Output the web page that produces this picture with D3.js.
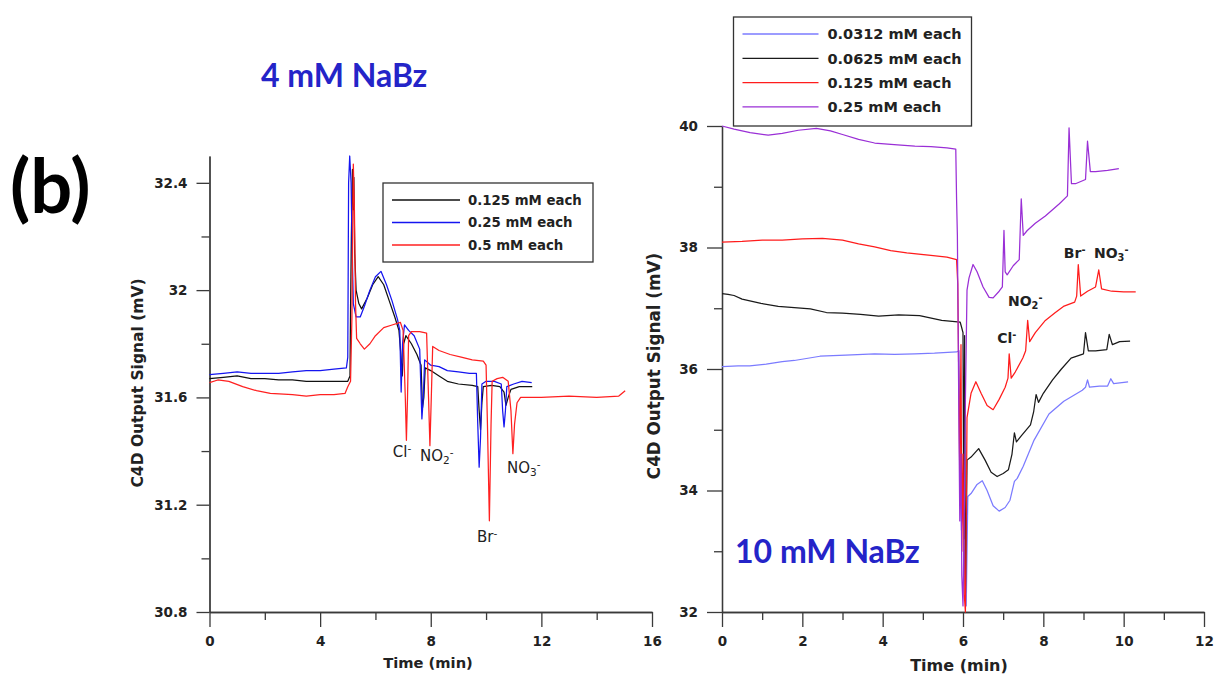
<!DOCTYPE html>
<html>
<head>
<meta charset="utf-8">
<script src="https://cdn.jsdelivr.net/npm/d3@7"></script>
<style>
  html, body { margin: 0; padding: 0; background: #fff; }
  svg { display: block; }
  .tick text { font-family: "DejaVu Sans", sans-serif; font-weight: bold; font-size: 13.5px; fill: #222; }
  .axis path, .axis line { stroke: #3a3a3a; stroke-width: 1.3; }
  .axis-title { font-family: "DejaVu Sans", sans-serif; font-weight: bold; fill: #222; }
  .legend text { font-family: "DejaVu Sans", sans-serif; font-weight: bold; fill: #222; }
  .ion { font-family: "DejaVu Sans", sans-serif; fill: #222; }
  .trace { fill: none; stroke-width: 1.25; stroke-linejoin: round; }
</style>
</head>
<body>
<svg id="chart" width="1215" height="675"></svg>
<script>
// ---------- Left panel: 4 mM NaBz electrolyte, [time (min), signal (mV)] ----------
const left_0125 = [[0,31.67],[0.5,31.675],[1,31.68],[1.5,31.67],[2,31.67],[2.5,31.665],[3,31.665],[3.5,31.66],[4,31.66],[4.5,31.66],[5.0,31.66],[5.08,31.68],[5.1,31.93],[5.13,32.2],[5.17,32.45],[5.2,32.3],[5.22,32.42],[5.25,32.14],[5.3,32.0],[5.4,31.95],[5.5,31.93],[5.7,31.97],[5.9,32.02],[6.1,32.05],[6.3,32.02],[6.5,31.96],[6.7,31.9],[6.85,31.85],[6.92,31.76],[6.97,31.68],[7.02,31.8],[7.1,31.83],[7.3,31.8],[7.5,31.76],[7.65,31.72],[7.7,31.56],[7.75,31.6],[7.8,31.71],[8.0,31.7],[8.3,31.68],[8.6,31.66],[9.0,31.65],[9.5,31.645],[9.7,31.64],[9.75,31.55],[9.8,31.48],[9.85,31.58],[9.9,31.64],[10.2,31.645],[10.5,31.64],[10.65,31.62],[10.72,31.57],[10.8,31.6],[10.9,31.63],[11.2,31.64],[11.67,31.64]];
const left_025 = [[0,31.685],[0.5,31.69],[1,31.695],[1.5,31.69],[2,31.69],[2.5,31.69],[3,31.695],[3.5,31.7],[4,31.7],[4.5,31.705],[4.95,31.71],[5.0,31.75],[5.03,32.4],[5.07,32.5],[5.12,32.4],[5.15,32.2],[5.2,31.95],[5.3,31.9],[5.45,31.9],[5.6,31.94],[5.8,32.0],[6.0,32.05],[6.2,32.07],[6.4,32.02],[6.6,31.96],[6.8,31.89],[6.88,31.85],[6.93,31.62],[6.98,31.8],[7.05,31.87],[7.2,31.85],[7.4,31.83],[7.6,31.78],[7.68,31.52],[7.73,31.6],[7.78,31.74],[8.0,31.72],[8.3,31.715],[8.6,31.7],[9.0,31.695],[9.4,31.69],[9.65,31.69],[9.7,31.5],[9.75,31.34],[9.8,31.45],[9.85,31.65],[10.0,31.66],[10.3,31.66],[10.55,31.65],[10.6,31.55],[10.65,31.49],[10.7,31.55],[10.75,31.64],[11.0,31.65],[11.3,31.66],[11.65,31.655]];
const left_05 = [[0,31.655],[0.3,31.665],[0.7,31.66],[1.2,31.64],[1.7,31.625],[2.2,31.615],[3,31.61],[3.5,31.605],[4,31.61],[4.5,31.61],[4.9,31.615],[5.0,31.64],[5.1,31.66],[5.15,31.9],[5.2,32.47],[5.24,32.3],[5.28,31.95],[5.32,31.82],[5.45,31.8],[5.6,31.78],[5.8,31.8],[6.0,31.83],[6.3,31.86],[6.6,31.87],[6.9,31.88],[7.0,31.85],[7.08,31.6],[7.12,31.44],[7.16,31.6],[7.2,31.83],[7.3,31.845],[7.6,31.845],[7.85,31.84],[7.92,31.6],[7.97,31.42],[8.02,31.6],[8.07,31.79],[8.3,31.775],[8.7,31.76],[9.1,31.75],[9.5,31.74],[9.9,31.735],[10.0,31.72],[10.05,31.5],[10.12,31.14],[10.18,31.5],[10.22,31.66],[10.4,31.67],[10.6,31.675],[10.8,31.66],[10.9,31.55],[10.97,31.39],[11.03,31.5],[11.12,31.58],[11.25,31.6],[12,31.6],[13,31.605],[14,31.6],[14.8,31.605],[15.03,31.625]];

const leftSeriesNames = ["0.125 mM each", "0.25 mM each", "0.5 mM each"];
const leftSeriesColors = ["#111111", "#1515f0", "#ff2020"];
const leftYTicks = [30.8, 31.2, 31.6, 32.0, 32.4];
const leftYTickLabels = ["30.8", "31.2", "31.6", "32", "32.4"];
const leftYMinor = [31.0, 31.4, 31.8, 32.2];
const leftXTicks = [0, 4, 8, 12, 16];
const leftXMinor = [2, 6, 10, 14];
// ion labels: [time, signal, base, subscript]
const leftIons = [[6.63,31.378,"Cl",""],[7.61,31.363,"NO","2"],[9.67,31.061,"Br",""],[10.76,31.318,"NO","3"]];

// ---------- Right panel: 10 mM NaBz electrolyte ----------
const right_00312 = [[0,36.04],[0.4,36.05],[0.69,36.05],[1.1,36.08],[1.5,36.12],[1.8,36.14],[2.44,36.21],[3.08,36.23],[3.8,36.25],[4.3,36.24],[4.8,36.25],[5.29,36.26],[5.84,36.28],[5.9,36.3],[5.93,34.5],[5.96,33.35],[6.0,33.8],[6.05,32.5],[6.08,32.1],[6.12,33.9],[6.2,33.95],[6.35,34.1],[6.48,34.16],[6.6,34.0],[6.75,33.75],[6.9,33.66],[7.05,33.72],[7.17,33.84],[7.28,34.15],[7.35,34.2],[7.5,34.4],[7.77,34.83],[8.14,35.26],[8.51,35.47],[8.97,35.65],[9.05,35.7],[9.1,35.82],[9.15,35.7],[9.4,35.72],[9.6,35.72],[9.68,35.84],[9.75,35.76],[10.11,35.79]];
const right_00625 = [[0,37.24],[0.15,37.23],[0.3,37.21],[0.5,37.15],[0.97,37.08],[1.4,37.03],[1.8,37.01],[2.2,36.99],[2.6,36.93],[3.0,36.92],[3.45,36.9],[3.9,36.87],[4.4,36.89],[4.92,36.88],[5.47,36.8],[5.93,36.77],[5.96,36.7],[6.0,36.6],[6.02,33.2],[6.04,36.55],[6.06,32.3],[6.08,33.3],[6.1,34.5],[6.2,34.55],[6.39,34.69],[6.55,34.5],[6.7,34.3],[6.85,34.23],[7.0,34.28],[7.13,34.34],[7.22,34.6],[7.28,34.95],[7.33,34.8],[7.45,34.9],[7.68,35.08],[7.76,35.3],[7.82,35.58],[7.88,35.45],[8.0,35.6],[8.23,35.82],[8.45,36.0],[8.69,36.18],[9.0,36.25],[9.05,36.6],[9.12,36.3],[9.3,36.3],[9.58,36.32],[9.64,36.57],[9.72,36.4],[9.9,36.45],[10.16,36.46]];
const right_0125 = [[0,38.09],[0.5,38.1],[1,38.12],[1.5,38.12],[2,38.14],[2.5,38.15],[3,38.12],[3.4,38.06],[3.8,38.01],[4.2,37.95],[4.6,37.91],[5.2,37.87],[5.6,37.84],[5.84,37.8],[5.87,37.4],[5.9,35.5],[5.92,34.2],[5.95,36.4],[5.97,33.0],[6.0,34.6],[6.03,32.3],[6.06,32.0],[6.08,33.5],[6.1,35.2],[6.2,35.6],[6.32,35.79],[6.45,35.6],[6.6,35.4],[6.75,35.33],[6.9,35.5],[7.05,35.7],[7.12,35.85],[7.15,36.25],[7.2,35.85],[7.3,35.95],[7.49,36.18],[7.56,36.3],[7.61,36.8],[7.66,36.45],[7.8,36.6],[8.05,36.8],[8.3,36.93],[8.5,37.03],[8.78,37.1],[8.83,37.2],[8.87,37.72],[8.93,37.2],[9.1,37.28],[9.3,37.35],[9.38,37.63],[9.45,37.32],[9.7,37.28],[10.0,37.27],[10.3,37.27]];
const right_025 = [[0,40.0],[0.3,39.95],[0.7,39.89],[1.15,39.85],[1.5,39.88],[1.9,39.93],[2.35,39.96],[2.7,39.92],[3.0,39.86],[3.4,39.78],[3.8,39.72],[4.37,39.69],[4.8,39.67],[5.2,39.66],[5.6,39.64],[5.82,39.62],[5.84,38.8],[5.86,38.2],[5.9,35.0],[5.92,33.5],[5.95,34.6],[5.97,32.6],[6.0,32.1],[6.03,33.5],[6.06,35.5],[6.1,37.3],[6.15,37.5],[6.25,37.72],[6.35,37.6],[6.5,37.35],[6.65,37.18],[6.75,37.17],[6.9,37.28],[6.98,37.35],[7.02,38.28],[7.05,37.6],[7.1,37.55],[7.25,37.7],[7.4,37.8],[7.45,38.8],[7.5,38.2],[7.6,38.28],[7.8,38.4],[8.05,38.52],[8.4,38.72],[8.6,38.85],[8.64,39.97],[8.7,39.05],[8.8,39.05],[9.05,39.12],[9.1,39.75],[9.17,39.25],[9.3,39.25],[9.6,39.27],[9.88,39.3]];

const rightSeriesNames = ["0.0312 mM each", "0.0625 mM each", "0.125 mM each", "0.25 mM each"];
const rightSeriesColors = ["#7b7bff", "#1a1a1a", "#ff1c1c", "#9a2fd6"];
const rightYTicks = [32, 34, 36, 38, 40];
const rightYMinor = [33, 35, 37, 39];
const rightXTicks = [0, 2, 4, 6, 8, 10, 12];
const rightXMinor = [1, 3, 5, 7, 9, 11];
const rightIons = [[6.85,36.43,"Cl",""],[7.12,37.04,"NO","2"],[8.51,37.83,"Br",""],[9.26,37.83,"NO","3"]];

const svg = d3.select("#chart");
svg.append("rect").attr("width", 1215).attr("height", 675).attr("fill", "#fff");

function drawPanel(cfg) {
  const g = svg.append("g");
  const x = d3.scaleLinear().domain(cfg.xDomain).range(cfg.xRange);
  const y = d3.scaleLinear().domain(cfg.yDomain).range(cfg.yRange);

  // minor ticks first, then major axes with labels
  g.append("g").attr("class", "axis").attr("transform", `translate(0,${cfg.yRange[0]})`)
    .call(d3.axisBottom(x).tickValues(cfg.xMinor).tickSize(8).tickSizeOuter(0).tickFormat(""));
  g.append("g").attr("class", "axis").attr("transform", `translate(${cfg.xRange[0]},0)`)
    .call(d3.axisLeft(y).tickValues(cfg.yMinor).tickSize(8).tickSizeOuter(0).tickFormat(""));
  g.append("g").attr("class", "axis").attr("transform", `translate(0,${cfg.yRange[0]})`)
    .call(d3.axisBottom(x).tickValues(cfg.xTicks).tickSize(15).tickPadding(9).tickSizeOuter(0).tickFormat(d3.format("d")));
  g.append("g").attr("class", "axis").attr("transform", `translate(${cfg.xRange[0]},0)`)
    .call(d3.axisLeft(y).tickValues(cfg.yTicks).tickSize(cfg.yTickSize).tickPadding(9).tickSizeOuter(0)
      .tickFormat((d, i) => cfg.yTickLabels[i]));

  // traces
  const line = d3.line().x(d => x(d[0])).y(d => y(d[1]));
  cfg.series.forEach((s, i) => {
    g.append("path").attr("class", "trace").attr("d", line(s))
      .attr("stroke", cfg.colors[i]);
  });

  // axis titles
  g.append("text").attr("class", "axis-title")
    .attr("transform", `translate(${cfg.yTitlePos[0]},${cfg.yTitlePos[1]}) rotate(-90)`)
    .attr("text-anchor", "middle").attr("font-size", cfg.yTitleSize)
    .text("C4D Output Signal (mV)");
  g.append("text").attr("class", "axis-title")
    .attr("x", cfg.xTitlePos[0]).attr("y", cfg.xTitlePos[1])
    .attr("text-anchor", "middle").attr("font-size", cfg.xTitleSize)
    .text("Time (min)");

  // legend
  const lg = g.append("g").attr("class", "legend");
  lg.append("rect").attr("x", cfg.legend.x).attr("y", cfg.legend.y)
    .attr("width", cfg.legend.w).attr("height", cfg.legend.h)
    .attr("fill", "#fff").attr("stroke", "#333").attr("stroke-width", 1.3);
  cfg.names.forEach((n, i) => {
    const ry = cfg.legend.y + cfg.legend.row0 + i * cfg.legend.step;
    lg.append("line").attr("x1", cfg.legend.x + cfg.legend.l0).attr("x2", cfg.legend.x + cfg.legend.l1)
      .attr("y1", ry).attr("y2", ry).attr("stroke", cfg.colors[i]).attr("stroke-width", 1.3);
    lg.append("text").attr("x", cfg.legend.x + cfg.legend.tx).attr("y", ry + cfg.legend.size * 0.36)
      .attr("font-size", cfg.legend.size).text(n);
  });

  // ion labels with sub/superscripts
  cfg.ions.forEach(([t, v, base, sub]) => {
    const tx = g.append("text").attr("class", "ion").attr("x", x(t)).attr("y", y(v))
      .attr("font-size", cfg.ionSize).attr("font-weight", cfg.ionWeight);
    tx.append("tspan").text(base);
    if (sub) {
      tx.append("tspan").attr("font-size", cfg.ionSize * 0.7).attr("dy", 3).text(sub);
      tx.append("tspan").attr("font-size", cfg.ionSize * 0.7).attr("dy", -8).text("-");
    } else {
      tx.append("tspan").attr("font-size", cfg.ionSize * 0.7).attr("dy", -5).text("-");
    }
  });
  return { x, y };
}

drawPanel({
  xDomain: [0, 16], xRange: [209.5, 652],
  yDomain: [30.8, 32.5], yRange: [612, 156],
  xTicks: leftXTicks, xMinor: leftXMinor,
  yTicks: leftYTicks, yTickLabels: leftYTickLabels, yMinor: leftYMinor, yTickSize: 13,
  series: [left_0125, left_025, left_05], colors: leftSeriesColors, names: leftSeriesNames,
  yTitlePos: [143, 383], xTitlePos: [428, 668], yTitleSize: 15.5, xTitleSize: 14.7,
  legend: { x: 383, y: 183, w: 210, h: 79, row0: 17, step: 22.5, l0: 9, l1: 77, tx: 85, size: 13.3 },
  ions: leftIons, ionSize: 15, ionWeight: "normal"
});

drawPanel({
  xDomain: [0, 12], xRange: [722, 1204],
  yDomain: [32, 40], yRange: [612, 126],
  xTicks: rightXTicks, xMinor: rightXMinor,
  yTicks: rightYTicks, yTickLabels: rightYTicks.map(String), yMinor: rightYMinor, yTickSize: 15,
  series: [right_00312, right_00625, right_0125, right_025], colors: rightSeriesColors, names: rightSeriesNames,
  yTitlePos: [660, 366], xTitlePos: [959, 671], yTitleSize: 16.8, xTitleSize: 16,
  legend: { x: 733.5, y: 17, w: 238, h: 109, row0: 17, step: 24.3, l0: 9, l1: 85, tx: 94, size: 14.5 },
  ions: rightIons, ionSize: 14, ionWeight: "bold"
});

// panel headings
const heading = { family: "Lato, 'Open Sans', sans-serif", color: "#2424c8" };
svg.append("text").attr("x", 261).attr("y", 87).attr("font-family", heading.family)
  .attr("font-weight", 700).attr("font-size", 32).attr("fill", heading.color).text("4 mM NaBz");
svg.append("text").attr("x", 735).attr("y", 563).attr("font-family", heading.family)
  .attr("font-weight", 700).attr("font-size", 32).attr("fill", heading.color).text("10 mM NaBz");
svg.append("text").attr("x", 10).attr("y", 213).attr("font-family", heading.family)
  .attr("font-weight", 700).attr("font-size", 74).attr("fill", "#000").text("(b)");
</script>
</body>
</html>
